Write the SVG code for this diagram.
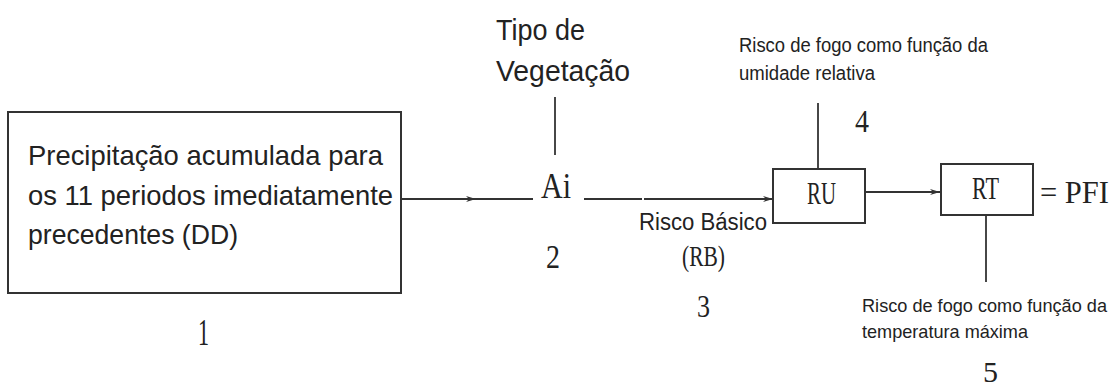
<svg xmlns="http://www.w3.org/2000/svg" width="1120" height="389" viewBox="0 0 1120 389">
<style>
.box{fill:#fff;stroke:#333;stroke-width:2}
.ln{fill:none;stroke:#333;stroke-width:1.8}
.sans{font-family:"Liberation Sans",Arial,sans-serif;fill:#222}
.serif{font-family:"Liberation Serif","Times New Roman",serif;fill:#222}
</style>
<defs>
<marker id="arr" markerWidth="12" markerHeight="8" refX="10" refY="4" orient="auto" markerUnits="userSpaceOnUse">
<path d="M0,1 L10,4 L0,7 L3,4 Z" fill="#333"/>
</marker>
</defs>
<rect width="1120" height="389" fill="#fff"/>

<g id="connectors">
<line class="ln" x1="401" y1="199" x2="476" y2="199" marker-end="url(#arr)"/>
<line class="ln" x1="474" y1="199" x2="533" y2="199"/>
<line class="ln" x1="555" y1="97" x2="555" y2="155"/>
<line class="ln" x1="584" y1="199" x2="642" y2="199"/>
<line class="ln" x1="644" y1="199" x2="773" y2="199" marker-end="url(#arr)"/>
<line class="ln" x1="818" y1="103" x2="818" y2="169"/>
<line class="ln" x1="865" y1="192" x2="940" y2="192" marker-end="url(#arr)"/>
<line class="ln" x1="986" y1="215" x2="986" y2="282"/>
</g>

<g id="node-precipitacao">
<rect class="box" x="8" y="112" width="393" height="181"/>
<text class="sans" font-size="28" x="28" y="165" textLength="355" lengthAdjust="spacingAndGlyphs">Precipitação acumulada para</text>
<text class="sans" font-size="28" x="28" y="205" textLength="365" lengthAdjust="spacingAndGlyphs">os 11 periodos imediatamente</text>
<text class="sans" font-size="28" x="28" y="244" textLength="210" lengthAdjust="spacingAndGlyphs">precedentes (DD)</text>
<text class="serif" font-size="38" x="198" y="345" textLength="11" lengthAdjust="spacingAndGlyphs">1</text>
</g>

<g id="node-ai">
<text class="sans" font-size="30" x="496" y="40" textLength="89" lengthAdjust="spacingAndGlyphs">Tipo de</text>
<text class="sans" font-size="30" x="496" y="81" textLength="134" lengthAdjust="spacingAndGlyphs">Vegetação</text>
<text class="serif" font-size="36" x="541" y="198" textLength="30" lengthAdjust="spacingAndGlyphs">Ai</text>
<text class="serif" font-size="34" x="546" y="268" textLength="14" lengthAdjust="spacingAndGlyphs">2</text>
</g>

<g id="label-rb">
<text class="sans" font-size="23" x="639" y="230" textLength="128" lengthAdjust="spacingAndGlyphs">Risco Básico</text>
<text class="serif" font-size="29" x="682" y="266" textLength="43" lengthAdjust="spacingAndGlyphs">(RB)</text>
<text class="serif" font-size="31" x="697" y="317" textLength="13" lengthAdjust="spacingAndGlyphs">3</text>
</g>

<g id="node-ru">
<rect class="box" x="773" y="169" width="92" height="54"/>
<text class="serif" font-size="31" x="807" y="204" textLength="29" lengthAdjust="spacingAndGlyphs">RU</text>
<text class="sans" font-size="20" x="739" y="52" textLength="249" lengthAdjust="spacingAndGlyphs">Risco de fogo como função da</text>
<text class="sans" font-size="20" x="739" y="80" textLength="136" lengthAdjust="spacingAndGlyphs">umidade relativa</text>
<text class="serif" font-size="31" x="855" y="132" textLength="14" lengthAdjust="spacingAndGlyphs">4</text>
</g>

<g id="node-rt">
<rect class="box" x="941" y="164" width="92" height="51"/>
<text class="serif" font-size="31" x="972" y="199" textLength="27" lengthAdjust="spacingAndGlyphs">RT</text>
<text class="serif" font-size="32" x="1040" y="203" textLength="69" lengthAdjust="spacingAndGlyphs">= PFI</text>
<text class="sans" font-size="18.3" x="862" y="312" textLength="245" lengthAdjust="spacingAndGlyphs">Risco de fogo como função da</text>
<text class="sans" font-size="19" x="862" y="338" textLength="166" lengthAdjust="spacingAndGlyphs">temperatura máxima</text>
<text class="serif" font-size="29" x="983" y="382" textLength="15" lengthAdjust="spacingAndGlyphs">5</text>
</g>
</svg>
